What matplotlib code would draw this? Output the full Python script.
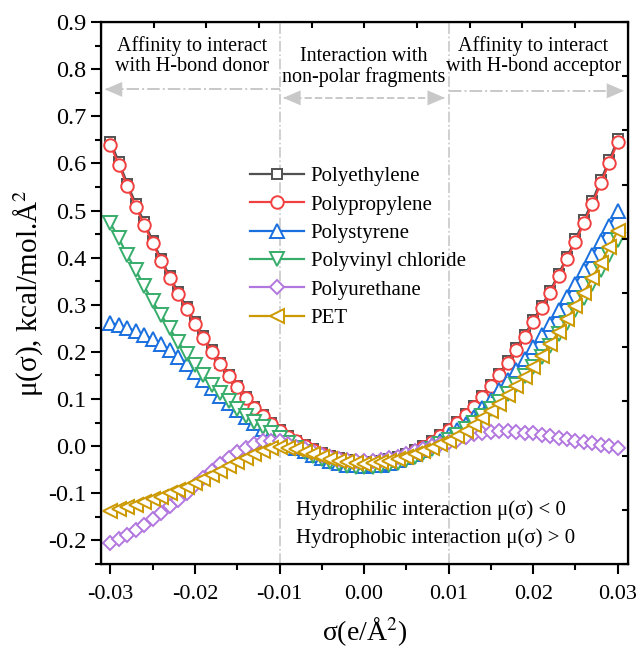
import numpy as np
import matplotlib
matplotlib.use('Agg')
import matplotlib.pyplot as plt

plt.rcParams['font.family'] = ['Liberation Serif', 'DejaVu Serif']
plt.rcParams['mathtext.fontset'] = 'stix'

# sigma grid (e/A^2)
sigma = [-0.030, -0.029, -0.028, -0.027, -0.026, -0.025, -0.024, -0.023, -0.022, -0.021,
         -0.020, -0.019, -0.018, -0.017, -0.016, -0.015, -0.014, -0.013, -0.012, -0.011,
         -0.010, -0.009, -0.008, -0.007, -0.006, -0.005, -0.004, -0.003, -0.002, -0.001,
         0.000, 0.001, 0.002, 0.003, 0.004, 0.005, 0.006, 0.007, 0.008, 0.009,
         0.010, 0.011, 0.012, 0.013, 0.014, 0.015, 0.016, 0.017, 0.018, 0.019,
         0.020, 0.021, 0.022, 0.023, 0.024, 0.025, 0.026, 0.027, 0.028, 0.029, 0.030]

# sigma potentials, kcal/mol.A^2
pe = [0.646, 0.603, 0.557, 0.514, 0.475, 0.436, 0.397, 0.361, 0.327, 0.295,
      0.264, 0.233, 0.203, 0.177, 0.152, 0.128, 0.104, 0.084, 0.066, 0.049,
      0.034, 0.022, 0.012, 0.003, -0.006, -0.014, -0.020, -0.026, -0.030, -0.033,
      -0.034, -0.034, -0.032, -0.028, -0.023, -0.016, -0.008, 0.001, 0.011, 0.023,
      0.037, 0.051, 0.068, 0.085, 0.106, 0.130, 0.154, 0.181, 0.209, 0.236,
      0.267, 0.297, 0.329, 0.365, 0.402, 0.439, 0.479, 0.520, 0.564, 0.607, 0.651]
pp = [0.639, 0.597, 0.551, 0.508, 0.469, 0.431, 0.393, 0.357, 0.323, 0.291,
      0.260, 0.229, 0.199, 0.174, 0.149, 0.125, 0.102, 0.082, 0.064, 0.047,
      0.032, 0.020, 0.010, 0.001, -0.008, -0.016, -0.022, -0.028, -0.032, -0.035,
      -0.036, -0.036, -0.034, -0.030, -0.025, -0.018, -0.010, -0.001, 0.009, 0.021,
      0.035, 0.049, 0.066, 0.083, 0.104, 0.127, 0.151, 0.177, 0.205, 0.232,
      0.263, 0.293, 0.325, 0.361, 0.398, 0.434, 0.473, 0.514, 0.558, 0.601, 0.645]
ps = [0.262, 0.257, 0.251, 0.244, 0.236, 0.227, 0.216, 0.203, 0.190, 0.175,
      0.158, 0.141, 0.124, 0.107, 0.091, 0.076, 0.062, 0.049, 0.037, 0.026,
      0.016, 0.006, -0.003, -0.011, -0.018, -0.025, -0.031, -0.036, -0.039, -0.041,
      -0.042, -0.041, -0.039, -0.035, -0.030, -0.024, -0.016, -0.008, 0.002, 0.012,
      0.023, 0.034, 0.048, 0.062, 0.080, 0.098, 0.119, 0.140, 0.162, 0.186,
      0.210, 0.235, 0.260, 0.288, 0.316, 0.345, 0.374, 0.405, 0.436, 0.467, 0.500]
pvc = [0.473, 0.441, 0.405, 0.374, 0.339, 0.307, 0.279, 0.250, 0.222, 0.196,
       0.172, 0.150, 0.130, 0.112, 0.095, 0.079, 0.065, 0.052, 0.040, 0.029,
       0.018, 0.007, -0.003, -0.012, -0.020, -0.027, -0.033, -0.038, -0.042, -0.044,
       -0.045, -0.045, -0.043, -0.040, -0.035, -0.029, -0.022, -0.014, -0.005, 0.004,
       0.014, 0.024, 0.036, 0.049, 0.063, 0.078, 0.094, 0.111, 0.129, 0.148,
       0.168, 0.190, 0.213, 0.237, 0.262, 0.288, 0.315, 0.344, 0.374, 0.405, 0.438]
pu = [-0.205, -0.197, -0.188, -0.178, -0.167, -0.155, -0.142, -0.128, -0.114, -0.099,
      -0.083, -0.067, -0.052, -0.038, -0.025, -0.013, -0.003, 0.005, 0.010, 0.012,
      0.010, 0.005, -0.001, -0.007, -0.013, -0.018, -0.023, -0.027, -0.030, -0.031,
      -0.032, -0.031, -0.029, -0.026, -0.022, -0.017, -0.011, -0.005, 0.000, 0.004,
      0.008, 0.014, 0.020, 0.025, 0.029, 0.031, 0.032, 0.032, 0.031, 0.029,
      0.027, 0.024, 0.021, 0.018, 0.015, 0.012, 0.009, 0.006, 0.003, 0.000, -0.003]
pet = [-0.138, -0.134, -0.130, -0.125, -0.119, -0.113, -0.107, -0.100, -0.093, -0.086,
       -0.078, -0.070, -0.061, -0.052, -0.043, -0.034, -0.025, -0.017, -0.010, -0.004,
       -0.001, -0.003, -0.007, -0.012, -0.017, -0.022, -0.027, -0.031, -0.034, -0.036,
       -0.037, -0.036, -0.034, -0.031, -0.027, -0.022, -0.016, -0.010, -0.003, 0.004,
       0.012, 0.021, 0.032, 0.045, 0.059, 0.074, 0.090, 0.108, 0.127, 0.147,
       0.169, 0.192, 0.216, 0.242, 0.269, 0.297, 0.326, 0.357, 0.389, 0.422, 0.457]

names = ['Polyethylene', 'Polypropylene', 'Polystyrene', 'Polyvinyl chloride', 'Polyurethane', 'PET']
series = [pe, pp, ps, pvc, pu, pet]
colors = ['#515151', '#F14040', '#1A6FDF', '#37AD6B', '#B177DE', '#CC9900']
markers = ['s', 'o', '^', 'v', 'D', '<']
msizes = [7, 9, 10, 10, 7.5, 10]

gc = '#c8c8c8'

fig = plt.figure(figsize=(6.4, 6.53), dpi=100)
ax = fig.add_axes([0.158, 0.1363, 0.823, 0.830])

# region separators
for xv in (-0.01, 0.01):
    ax.axvline(xv, color=gc, lw=1.2, ls='-.', zorder=0)

for y, name, c, m, ms in zip(series, names, colors, markers, msizes):
    ax.plot(sigma, y, color=c, marker=m, ms=ms, mfc='white', mec=c, mew=1.4,
            lw=1.6, label=name)

ax.set_xlim(-0.0311, 0.0312)
ax.set_ylim(-0.25, 0.9)
ax.set_xticks([-0.03, -0.02, -0.01, 0.0, 0.01, 0.02, 0.03])
ax.set_xticklabels(['-0.03', '-0.02', '-0.01', '0.00', '0.01', '0.02', '0.03'])
ax.set_xticks(np.arange(-0.025, 0.03, 0.01), minor=True)
ax.set_yticks(np.arange(-0.2, 0.91, 0.1))
ax.set_yticklabels(['-0.2', '-0.1', '0.0', '0.1', '0.2', '0.3', '0.4', '0.5', '0.6', '0.7', '0.8', '0.9'])
ax.set_yticks(np.arange(-0.25, 0.9, 0.1), minor=True)
ax.tick_params(which='major', direction='out', length=7, width=1.5, labelsize=16)
ax.tick_params(axis='y', labelsize=17.5)
ax.tick_params(which='minor', direction='out', length=4, width=1.5)
ax.tick_params(axis='x', pad=8)
for s in ax.spines.values():
    s.set_linewidth(1.6)

# unlabeled inward ticks on top and right
axr = ax.twinx()
axr.set_ylim(0, 10)
axr.set_yticks(range(11))
axr.tick_params(direction='in', length=4, width=1.5, labelright=False)
axt = ax.twiny()
axt.set_xlim(0, 10)
axt.set_xticks(range(11))
axt.tick_params(direction='in', length=4, width=1.5, labeltop=False)

ax.set_xlabel('σ(e/Å$^2$)', fontsize=20, labelpad=8)
ax.set_ylabel('μ(σ), kcal/mol.Å$^2$', fontsize=21, labelpad=2)

# region arrows
head = dict(arrowstyle='-|>,head_length=0.7,head_width=0.3', color=gc, lw=0, mutation_scale=18)
ax.plot([-0.0305, -0.01], [0.757, 0.757], color=gc, lw=1.4, ls='-.')
ax.annotate('', xy=(-0.0310, 0.757), xytext=(-0.0290, 0.757), arrowprops=head)
ax.plot([0.01, 0.0305], [0.754, 0.754], color=gc, lw=1.4, ls='-.')
ax.annotate('', xy=(0.0311, 0.754), xytext=(0.0290, 0.754), arrowprops=head)
ax.plot([-0.0095, 0.0095], [0.739, 0.739], color=gc, lw=1.4, ls='--')
ax.annotate('', xy=(-0.0099, 0.739), xytext=(-0.0080, 0.739), arrowprops=head)
ax.annotate('', xy=(0.0099, 0.739), xytext=(0.0080, 0.739), arrowprops=head)

ax.text(-0.0203, 0.828, 'Affinity to interact\nwith H-bond donor', ha='center', va='center',
        fontsize=14.5, linespacing=1.05)
ax.text(0.0, 0.805, 'Interaction with\nnon-polar fragments', ha='center', va='center',
        fontsize=14.5, linespacing=1.05)
ax.text(0.0200, 0.828, 'Affinity to interact\nwith H-bond acceptor', ha='center', va='center',
        fontsize=14.5, linespacing=1.05)
ax.text(-0.0081, -0.136, 'Hydrophilic interaction μ(σ) < 0', ha='left', va='center', fontsize=15)
ax.text(-0.0081, -0.195, 'Hydrophobic interaction μ(σ) > 0', ha='left', va='center', fontsize=15)

ax.legend(loc='upper left', bbox_to_anchor=(0.283, 0.733), frameon=False, fontsize=15,
          handlelength=2.6, handletextpad=0.3, labelspacing=0.42, borderpad=0,
          borderaxespad=0, numpoints=1)

fig.savefig('out.png', dpi=100)
